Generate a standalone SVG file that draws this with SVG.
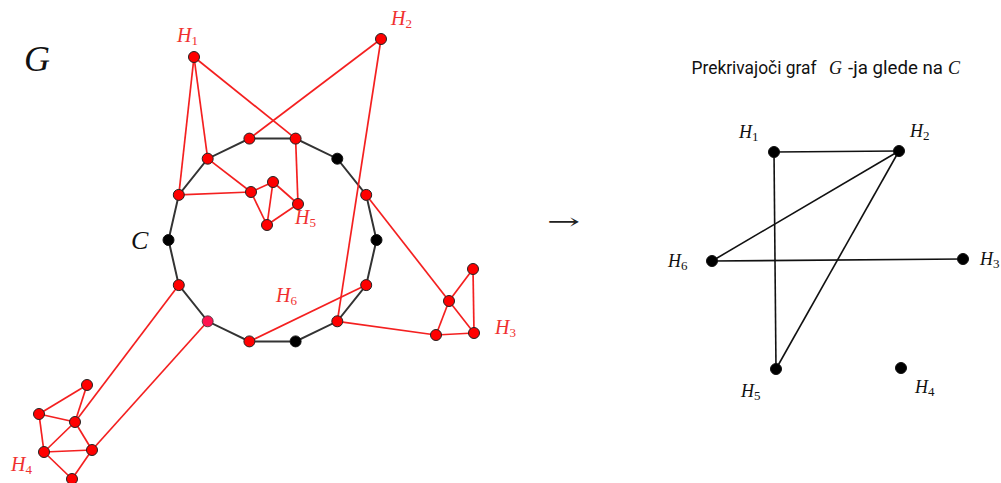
<svg xmlns="http://www.w3.org/2000/svg" width="1001" height="483" viewBox="0 0 1001 483">
<style>
.cyc{fill:none;stroke:#333;stroke-width:2}
.re{stroke:#f42020;stroke-width:1.7;fill:none}
.be{stroke:#111;stroke-width:1.6;fill:none}
.rn{fill:#f00;stroke:#222;stroke-width:1}
.cn{fill:#ff1450;stroke:#333;stroke-width:0.8}
.kn{fill:#000;stroke:#111;stroke-width:1}
.rl{font-family:"Liberation Serif",serif;font-style:italic;font-size:20px;fill:#f03030}
.bl{font-family:"Liberation Serif",serif;font-style:italic;font-size:18px;fill:#111}
.sub{font-style:normal;font-size:13px}
.math{font-family:"Liberation Serif",serif;font-style:italic;fill:#111}
.title{font-family:Roboto,"Noto Sans",sans-serif;font-size:17.5px;fill:#111}
</style>
<g id="connectors">
<polygon class="cyc" points="249.4,138.6 295.6,138.6 337.3,158.7 366.2,194.9 376.5,240 366.2,285.1 337.3,321.3 295.6,341.4 249.4,341.4 207.7,321.3 178.8,285.1 168.5,240 178.8,194.9 207.7,158.7"/>
<g class="re">
<line x1="194" y1="57" x2="178.8" y2="194.9"/>
<line x1="194" y1="57" x2="207.7" y2="158.7"/>
<line x1="194" y1="57" x2="295.6" y2="138.6"/>
<line x1="381" y1="39" x2="249.4" y2="138.6"/>
<line x1="381" y1="39" x2="337.3" y2="321.3"/>
<line x1="207.7" y1="158.7" x2="251" y2="192"/>
<line x1="178.8" y1="194.9" x2="251" y2="192"/>
<line x1="295.6" y1="138.6" x2="298" y2="204"/>
<line x1="251" y1="192" x2="273" y2="182"/>
<line x1="273" y1="182" x2="298" y2="204"/>
<line x1="273" y1="182" x2="267" y2="225"/>
<line x1="251" y1="192" x2="267" y2="225"/>
<line x1="267" y1="225" x2="298" y2="204"/>
<line x1="249.4" y1="341.4" x2="366.2" y2="285.1"/>
<line x1="366.2" y1="194.9" x2="449" y2="301"/>
<line x1="337.3" y1="321.3" x2="436" y2="335"/>
<line x1="449" y1="301" x2="473" y2="269"/>
<line x1="473" y1="269" x2="474" y2="333"/>
<line x1="449" y1="301" x2="474" y2="333"/>
<line x1="449" y1="301" x2="436" y2="335"/>
<line x1="436" y1="335" x2="474" y2="333"/>
<line x1="178.8" y1="285.1" x2="75" y2="422"/>
<line x1="207.7" y1="321.3" x2="92" y2="450"/>
<line x1="39" y1="414" x2="87" y2="385"/>
<line x1="87" y1="385" x2="75" y2="422"/>
<line x1="39" y1="414" x2="75" y2="422"/>
<line x1="39" y1="414" x2="44" y2="452"/>
<line x1="75" y1="422" x2="44" y2="452"/>
<line x1="44" y1="452" x2="92" y2="450"/>
<line x1="75" y1="422" x2="92" y2="450"/>
<line x1="44" y1="452" x2="72" y2="479"/>
<line x1="92" y1="450" x2="72" y2="479"/>
</g>
<g class="be">
<line x1="774" y1="152" x2="899" y2="151"/>
<line x1="774" y1="152" x2="776" y2="369"/>
<line x1="899" y1="151" x2="712" y2="261"/>
<line x1="899" y1="151" x2="776" y2="369"/>
<line x1="712" y1="261" x2="963" y2="259"/>
</g>
</g>
<g id="cycle-nodes">
<circle class="rn" cx="249.4" cy="138.6" r="5.5"/>
<circle class="rn" cx="295.6" cy="138.6" r="5.5"/>
<circle class="kn" cx="337.3" cy="158.7" r="5.5"/>
<circle class="rn" cx="366.2" cy="194.9" r="5.5"/>
<circle class="kn" cx="376.5" cy="240" r="5.5"/>
<circle class="rn" cx="366.2" cy="285.1" r="5.5"/>
<circle class="rn" cx="337.3" cy="321.3" r="5.5"/>
<circle class="kn" cx="295.6" cy="341.4" r="5.5"/>
<circle class="rn" cx="249.4" cy="341.4" r="5.5"/>
<circle class="cn" cx="207.7" cy="321.3" r="5.5"/>
<circle class="rn" cx="178.8" cy="285.1" r="5.5"/>
<circle class="kn" cx="168.5" cy="240" r="5.5"/>
<circle class="rn" cx="178.8" cy="194.9" r="5.5"/>
<circle class="rn" cx="207.7" cy="158.7" r="5.5"/>
</g>
<g id="H1">
<circle class="rn" cx="194" cy="57" r="5.5"/>
<text class="rl" x="177" y="41.5">H<tspan class="sub" dy="3">1</tspan></text>
</g>
<g id="H2">
<circle class="rn" cx="381" cy="39" r="5.5"/>
<text class="rl" x="391" y="25">H<tspan class="sub" dy="3">2</tspan></text>
</g>
<g id="H5">
<circle class="rn" cx="251" cy="192" r="5.5"/>
<circle class="rn" cx="273" cy="182" r="5.5"/>
<circle class="rn" cx="298" cy="204" r="5.5"/>
<circle class="rn" cx="267" cy="225" r="5.5"/>
<text class="rl" x="295" y="224">H<tspan class="sub" dy="3">5</tspan></text>
</g>
<g id="H6">
<text class="rl" x="276" y="301.5">H<tspan class="sub" dy="3">6</tspan></text>
</g>
<g id="H3">
<circle class="rn" cx="449" cy="301" r="5.5"/>
<circle class="rn" cx="473" cy="269" r="5.5"/>
<circle class="rn" cx="474" cy="333" r="5.5"/>
<circle class="rn" cx="436" cy="335" r="5.5"/>
<text class="rl" x="495" y="334">H<tspan class="sub" dy="3">3</tspan></text>
</g>
<g id="H4">
<circle class="rn" cx="87" cy="385" r="5.5"/>
<circle class="rn" cx="39" cy="414" r="5.5"/>
<circle class="rn" cx="75" cy="422" r="5.5"/>
<circle class="rn" cx="44" cy="452" r="5.5"/>
<circle class="rn" cx="92" cy="450" r="5.5"/>
<circle class="rn" cx="72" cy="479" r="5.5"/>
<text class="rl" x="11" y="470.5">H<tspan class="sub" dy="3">4</tspan></text>
</g>
<g id="labels">
<text class="math" x="24" y="70.5" font-size="36">G</text>
<text class="math" x="131" y="249" font-size="26">C</text>
<text x="547" y="229" font-family="DejaVu Serif,serif" font-size="22" fill="#222" textLength="33" lengthAdjust="spacingAndGlyphs">→</text>
<text class="title" x="691.5" y="73.5" textLength="125" lengthAdjust="spacingAndGlyphs">Prekrivajoči graf</text>
<text class="math" x="829" y="73.5" font-size="18">G</text>
<text class="title" x="848" y="73.5" textLength="95" lengthAdjust="spacingAndGlyphs">-ja glede na</text>
<text class="math" x="948" y="73.5" font-size="18">C</text>
</g>
<g id="R-H1">
<circle class="kn" cx="774" cy="152" r="5.5"/>
<text class="bl" x="739" y="138">H<tspan class="sub" dy="3" font-size="12">1</tspan></text>
</g>
<g id="R-H2">
<circle class="kn" cx="899" cy="151" r="5.5"/>
<text class="bl" x="910" y="136.5">H<tspan class="sub" dy="3" font-size="12">2</tspan></text>
</g>
<g id="R-H6">
<circle class="kn" cx="712" cy="261" r="5.5"/>
<text class="bl" x="668" y="266.5">H<tspan class="sub" dy="3" font-size="12">6</tspan></text>
</g>
<g id="R-H3">
<circle class="kn" cx="963" cy="259" r="5.5"/>
<text class="bl" x="980" y="265">H<tspan class="sub" dy="3" font-size="12">3</tspan></text>
</g>
<g id="R-H5">
<circle class="kn" cx="776" cy="369" r="5.5"/>
<text class="bl" x="741" y="396.5">H<tspan class="sub" dy="3" font-size="12">5</tspan></text>
</g>
<g id="R-H4">
<circle class="kn" cx="901" cy="368" r="5.5"/>
<text class="bl" x="915" y="393">H<tspan class="sub" dy="3" font-size="12">4</tspan></text>
</g>
</svg>
